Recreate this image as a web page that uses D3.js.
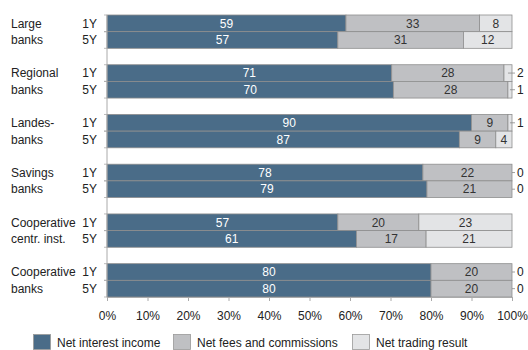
<!DOCTYPE html>
<html><head><meta charset="utf-8">
<script src="https://cdn.jsdelivr.net/npm/d3@7"></script>
<style>body{margin:0;background:#fff}svg{display:block}text{font-family:"Liberation Sans",Arial,sans-serif}</style>
</head><body><svg id="c" width="528" height="350"></svg>
<script>
const groups = ["Large banks","Regional banks","Landes-banks","Savings banks","Cooperative centr. inst.","Cooperative banks"];
const groupLines = [["Large","banks"],["Regional","banks"],["Landes-","banks"],["Savings","banks"],["Cooperative","centr. inst."],["Cooperative","banks"]];
const horizons = ["1Y","5Y"];
const seriesNames = ["Net interest income","Net fees and commissions","Net trading result"];
const interest1Y = [59,71,90,78,57,80];
const interest5Y = [57,70,87,79,61,80];
const fees1Y = [33,28,9,22,20,20];
const fees5Y = [31,28,9,21,17,20];
const trading1Y = [8,2,1,0,23,0];
const trading5Y = [12,1,4,0,21,0];
const xTicks = [0,10,20,30,40,50,60,70,80,90,100];
const colors = ["#4a6c88","#bfc0c3","#e3e4e6"];

const svg = d3.select("#c");
const x = d3.scaleLinear().domain([0,100]).range([107,512]);
const y = d3.scaleBand().domain(groups).range([15,297]).paddingInner(0.33).paddingOuter(0);
const yi = d3.scaleBand().domain(horizons).range([0,y.bandwidth()]);

const rows = [];
groups.forEach((g,i)=>{
  const vals = {"1Y":[interest1Y[i],fees1Y[i],trading1Y[i]],"5Y":[interest5Y[i],fees5Y[i],trading5Y[i]]};
  horizons.forEach(h=>{
    const v = vals[h]; const tot = d3.sum(v);
    let acc=0;
    const segs = v.map((val,k)=>{const s={k,val,x0:acc/tot*100,x1:(acc+val)/tot*100};acc+=val;return s;});
    rows.push({g,h,y0:y(g)+yi(h),segs});
  });
});

// bars
rows.forEach(r=>{
  const gr = svg.append("g");
  gr.selectAll("rect").data(r.segs.filter(s=>s.val>0)).join("rect")
    .attr("x",s=>x(s.x0)).attr("width",s=>x(s.x1)-x(s.x0))
    .attr("y",r.y0).attr("height",yi.bandwidth())
    .attr("fill",s=>colors[s.k]).attr("stroke","#8e8e8e").attr("stroke-width",0.8);
  r.segs.forEach(s=>{
    const cy = r.y0+yi.bandwidth()/2;
    if(s.val>=3){
      gr.append("text").attr("x",(x(s.x0)+x(s.x1))/2).attr("y",cy+4.3)
        .attr("text-anchor","middle").attr("font-size",12)
        .attr("fill",s.k===0?"#fff":"#333").text(s.val);
    } else if(s.k===2){
      const cx = s.val>0?(x(s.x0)+x(s.x1))/2:x(100);
      gr.append("line").attr("x1",cx).attr("x2",x(100)+3).attr("y1",cy).attr("y2",cy)
        .attr("stroke","#888").attr("stroke-width",0.8);
      gr.append("text").attr("x",x(100)+5).attr("y",cy+4.3).attr("font-size",12)
        .attr("fill","#222").text(s.val);
    }
  });
  // horizon label
  svg.append("text").attr("x",97).attr("y",r.y0+yi.bandwidth()/2+4.3).attr("text-anchor","end")
    .attr("font-size",12).attr("fill","#222").text(r.h);
  // small left ticks
  [r.y0, r.y0+yi.bandwidth()].forEach(yy=>svg.append("line").attr("x1",104).attr("x2",107)
    .attr("y1",yy).attr("y2",yy).attr("stroke","#aaa").attr("stroke-width",0.8));
});

// group labels
groups.forEach((g,i)=>{
  const t = svg.append("text").attr("x",11).attr("font-size",12).attr("fill","#222");
  groupLines[i].forEach((l,j)=>t.append("tspan").attr("x",11).attr("y",y(g)+yi("1Y")+yi.bandwidth()/2+4.3+j*yi.step()).text(l));
});

// y axis line
svg.append("line").attr("x1",107).attr("x2",107).attr("y1",15).attr("y2",297).attr("stroke","#aaa").attr("stroke-width",1);

// x axis
const xa = svg.append("g").attr("transform","translate(0,297)")
  .call(d3.axisBottom(x).tickValues(xTicks).tickFormat(d=>d+"%").tickSize(4).tickPadding(10));
xa.select(".domain").attr("stroke","#aaa");
xa.selectAll(".tick line").attr("stroke","#aaa");
xa.selectAll("text").attr("font-size",12).attr("fill","#222").attr("font-family","Liberation Sans, Arial, sans-serif");

// legend
const legX = [33,173,352];
seriesNames.forEach((n,i)=>{
  svg.append("rect").attr("x",legX[i]+0.5).attr("y",334.5).attr("width",17).attr("height",15)
    .attr("fill",colors[i]).attr("stroke","#999").attr("stroke-width",0.8);
  svg.append("text").attr("x",legX[i]+24).attr("y",347).attr("font-size",12).attr("fill","#222").text(n);
});
</script></body></html>
